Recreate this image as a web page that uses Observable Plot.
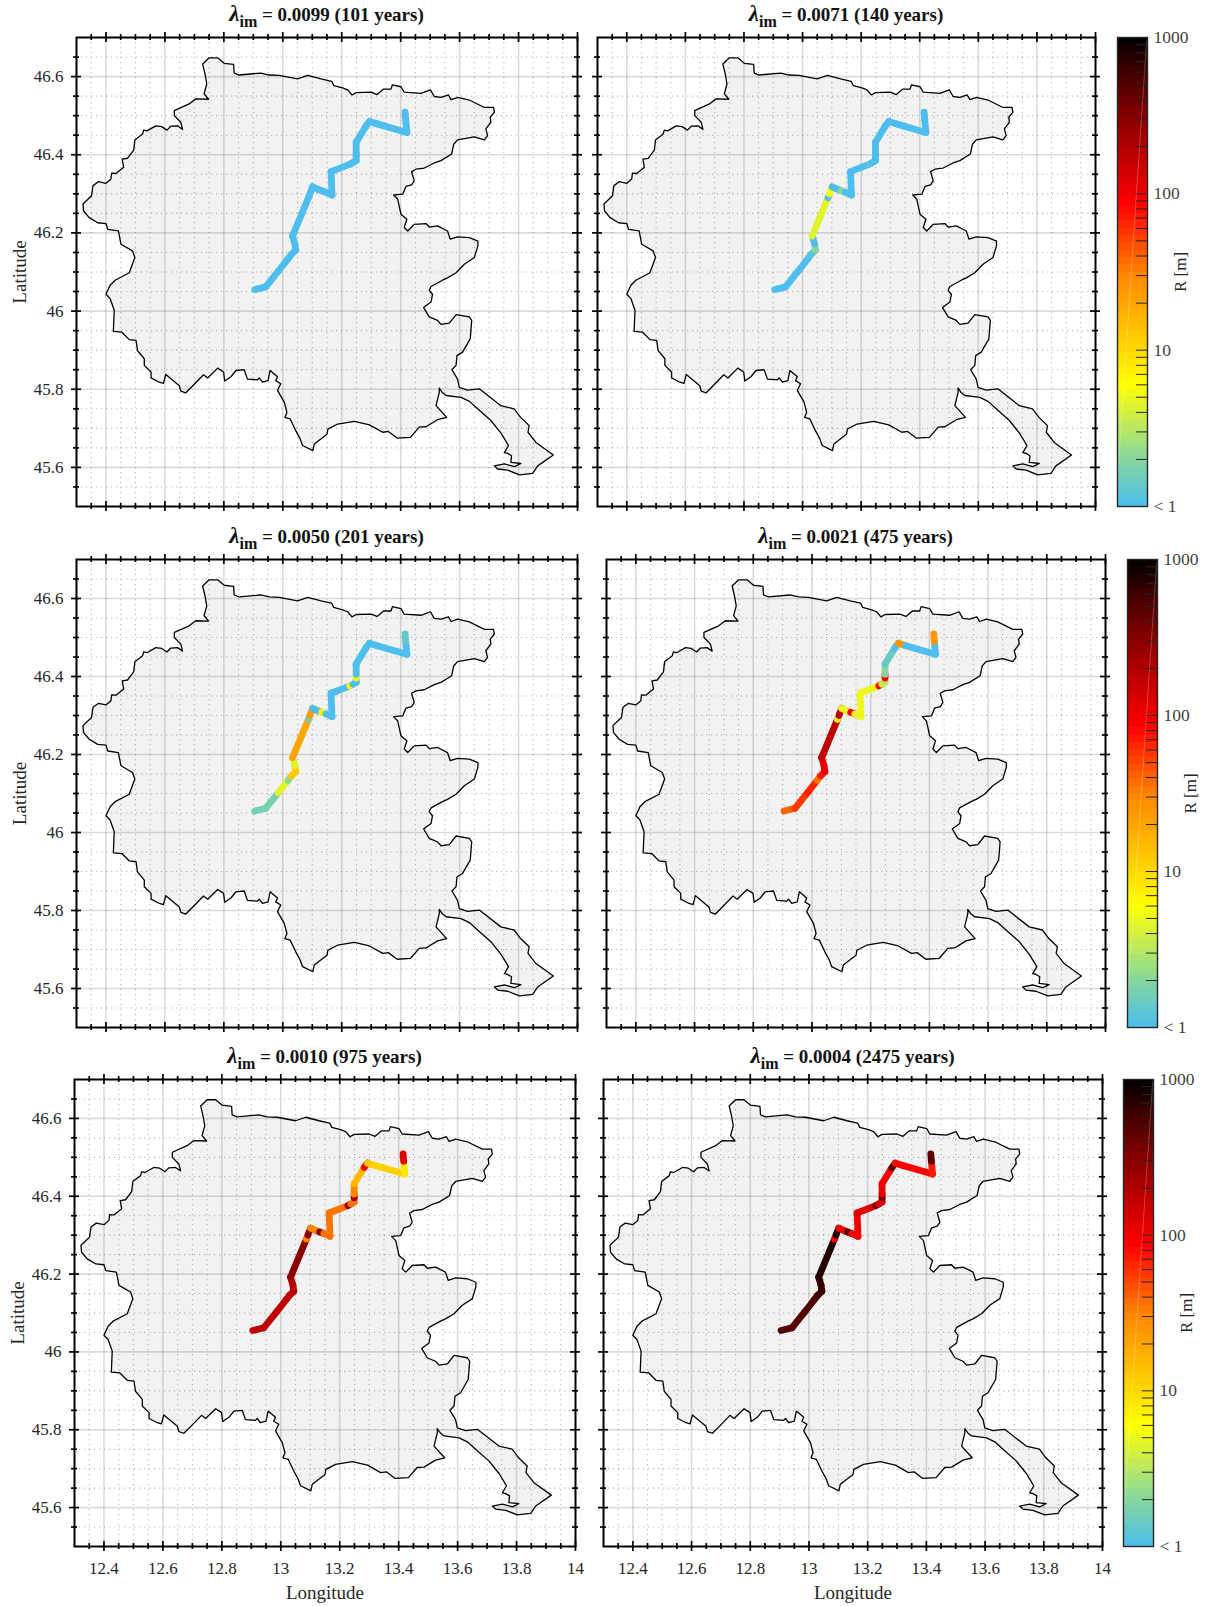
<!DOCTYPE html>
<html>
<head>
<meta charset="utf-8">
<script src="https://cdn.jsdelivr.net/npm/d3@7"></script>
<script src="https://cdn.jsdelivr.net/npm/@observablehq/plot@0.6"></script>
<style>
html,body{margin:0;padding:0;background:#fff;}
#page{position:relative;width:1207px;height:1606px;overflow:hidden;font-family:"Liberation Serif",serif;}
.slot{position:absolute;left:0;top:0;}
.slot svg{max-width:none;overflow:visible;background:transparent;}
.ttl{position:absolute;text-align:center;font-weight:bold;font-size:19px;line-height:20px;color:#111;white-space:nowrap;}
.ttl i{font-size:23px;}
.ttl sub{font-size:16px;line-height:0;vertical-align:-6px;}
</style>
</head>
<body>
<div id="page"></div>
<script>
const outlineLon = [12.431,12.479,12.498,12.490,12.451,12.442,12.406,12.400,12.372,12.343,12.324,12.322,12.351,12.356,12.374,12.400,12.417,12.419,12.434,12.460,12.455,12.473,12.494,12.498,12.524,12.528,12.539,12.569,12.589,12.607,12.620,12.643,12.660,12.654,12.632,12.632,12.682,12.705,12.748,12.733,12.742,12.736,12.728,12.750,12.779,12.801,12.833,12.835,12.852,12.925,12.954,12.988,13.050,13.085,13.130,13.166,13.173,13.203,13.220,13.235,13.249,13.300,13.320,13.342,13.367,13.372,13.401,13.412,13.469,13.501,13.514,13.537,13.562,13.571,13.594,13.633,13.684,13.715,13.718,13.704,13.706,13.689,13.695,13.684,13.650,13.593,13.580,13.573,13.537,13.514,13.480,13.452,13.437,13.446,13.437,13.418,13.407,13.376,13.390,13.401,13.421,13.412,13.424,13.446,13.486,13.497,13.525,13.559,13.568,13.593,13.633,13.662,13.662,13.650,13.616,13.588,13.559,13.542,13.503,13.497,13.508,13.503,13.478,13.497,13.525,13.537,13.565,13.588,13.633,13.641,13.636,13.610,13.591,13.588,13.574,13.593,13.599,13.627,13.667,13.740,13.785,13.807,13.836,13.832,13.859,13.918,13.865,13.848,13.803,13.763,13.729,13.718,13.752,13.786,13.808,13.774,13.776,13.763,13.752,13.766,13.741,13.706,13.661,13.633,13.605,13.554,13.542,13.531,13.531,13.520,13.556,13.525,13.486,13.463,13.433,13.388,13.358,13.339,13.294,13.243,13.186,13.153,13.150,13.107,13.102,13.067,13.059,13.044,13.025,13.007,13.014,13.005,12.982,12.993,12.976,12.982,12.957,12.950,12.931,12.920,12.914,12.880,12.869,12.841,12.824,12.803,12.799,12.779,12.745,12.731,12.699,12.671,12.654,12.649,12.603,12.595,12.581,12.553,12.553,12.530,12.530,12.507,12.502,12.479,12.454,12.425,12.428,12.414,12.400,12.414];
const outlineLat = [46.079,46.098,46.137,46.154,46.171,46.205,46.209,46.224,46.226,46.239,46.256,46.274,46.295,46.321,46.331,46.327,46.338,46.353,46.352,46.368,46.389,46.391,46.412,46.438,46.453,46.463,46.461,46.474,46.472,46.463,46.473,46.474,46.465,46.483,46.500,46.513,46.530,46.543,46.542,46.556,46.581,46.607,46.632,46.648,46.648,46.634,46.631,46.609,46.604,46.609,46.604,46.603,46.594,46.603,46.594,46.588,46.577,46.571,46.566,46.553,46.559,46.560,46.554,46.568,46.568,46.579,46.574,46.560,46.557,46.566,46.549,46.547,46.553,46.541,46.547,46.540,46.521,46.521,46.509,46.496,46.483,46.466,46.449,46.438,46.446,46.438,46.427,46.402,46.385,46.379,46.366,46.363,46.357,46.333,46.323,46.319,46.299,46.297,46.286,46.248,46.235,46.214,46.205,46.222,46.224,46.215,46.218,46.205,46.184,46.190,46.188,46.179,46.167,46.137,46.120,46.098,46.085,46.079,46.063,46.053,46.043,46.023,46.009,45.985,45.976,45.966,45.969,45.991,45.985,45.976,45.929,45.895,45.886,45.861,45.850,45.826,45.805,45.798,45.801,45.758,45.750,45.728,45.707,45.690,45.664,45.632,45.604,45.585,45.581,45.593,45.596,45.604,45.609,45.602,45.610,45.613,45.630,45.636,45.638,45.656,45.687,45.720,45.750,45.769,45.779,45.784,45.791,45.803,45.792,45.758,45.728,45.722,45.704,45.703,45.677,45.675,45.692,45.690,45.709,45.718,45.711,45.698,45.685,45.660,45.643,45.656,45.673,45.694,45.724,45.728,45.741,45.767,45.797,45.814,45.822,45.832,45.848,45.822,45.818,45.829,45.824,45.826,45.850,45.848,45.832,45.821,45.844,45.854,45.829,45.837,45.812,45.791,45.795,45.809,45.838,45.815,45.818,45.829,45.844,45.861,45.878,45.899,45.925,45.927,45.946,45.948,46.002,46.032,46.043,46.066];

const stationLon = [12.905,12.942,12.985,13.018,13.029,13.044,13.041,13.033,13.087,13.092,13.101,13.122,13.132,13.146,13.167,13.164,13.228,13.238,13.249,13.249,13.249,13.249,13.283,13.294,13.320,13.421,13.417,13.415];
const stationLat = [46.055,46.062,46.102,46.134,46.145,46.156,46.172,46.192,46.290,46.300,46.318,46.311,46.308,46.304,46.297,46.357,46.376,46.380,46.385,46.396,46.406,46.432,46.474,46.485,46.479,46.457,46.490,46.509];

const R1 = [1,1,1,1,1,1,1,1,1,1,1,1,1,1,1,1,1,1,1,1,1,1,1,1,1,1,1];
const R2 = [1,1,1,1,1.2,2,1,4.5,1,5.5,1,1,2,1,1,1,1.3,1,1,1,1,1,1,1,1,1,1];
const R3 = [1.6,1.7,4.5,2,12,12,4.5,20,1.5,22,1,1,7,1,1,1,7,1,1,5,1,1,1,1,1,1,1.3];
const R4 = [40,55,65,35,70,100,100,170,5,170,5,5,90,5,5,5,90,4.5,3,90,2,1.4,1,25,1,1,25];
const R5 = [170,170,170,170,170,190,190,300,30,300,30,30,300,35,35,35,250,35,35,250,30,15,90,12,11,8,120];
const R6 = [500,500,500,500,600,650,650,750,90,750,100,100,500,95,95,120,350,130,120,350,110,100,500,85,85,70,450];

const rStops  = [1,2,3,4,6,10,20,30,85,200,300,600,1000];
const rColors = ["#4dbeee","#85d79b","#b4e76a","#d4f03c","#ffff00","#ffd800","#ffa500","#ff8800","#ff0000","#b00000","#8a0000","#3f0000","#000000"];

const lonMajor = [12.4,12.6,12.8,13,13.2,13.4,13.6,13.8,14];
const latMajor = [45.6,45.8,46,46.2,46.4,46.6];
const lonAll = d3.range(0,35).map(i => +(12.3+i*0.05).toFixed(2));
const latAll = d3.range(0,25).map(i => +(45.5+i*0.05).toFixed(2));
const lonMinor = lonAll.filter(v => !lonMajor.includes(v) && v!==12.3);
const latMinor = latAll.filter(v => !latMajor.includes(v) && v!==45.5 && v!==46.7);
const cbarMinor = [2,3,4,5,6,7,8,9,10,20,30,40,50,60,70,80,90,100,200,300,400,500,600,700,800,900];
const cbarLabels = [1,10,100,1000];

const colorScale = {type:"log",domain:rStops,range:rColors};
const outline = outlineLon.map((x,i)=>({x,y:outlineLat[i]}));
const page = document.getElementById("page");
const M = {l:70,r:22,t:10,b:60};

function panel(p){
  const w = p.right-p.left, h = p.bottom-p.top;
  const kx = 1.7/w, ky = 1.2/h;
  const route = d3.range(stationLon.length-1).map(i=>({x1:stationLon[i],y1:stationLat[i],x2:stationLon[i+1],y2:stationLat[i+1],r:p.R[i]}));
  const tick = (len,sw,xs,ys)=>[
    Plot.ruleX(xs,{x:d=>d,y1:45.5-len*ky,y2:45.5+len*ky,stroke:"#000",strokeWidth:sw}),
    Plot.ruleX(xs,{x:d=>d,y1:46.7-len*ky,y2:46.7+len*ky,stroke:"#000",strokeWidth:sw}),
    Plot.ruleY(ys,{y:d=>d,x1:12.3-len*kx,x2:12.3+len*kx,stroke:"#000",strokeWidth:sw}),
    Plot.ruleY(ys,{y:d=>d,x1:14-len*kx,x2:14+len*kx,stroke:"#000",strokeWidth:sw})
  ];
  const marks = [
    Plot.line(outline,{x:"x",y:"y",fill:"#f2f2f2",stroke:"none"}),
    Plot.ruleX(lonMinor,{x:d=>d,stroke:"#000",strokeOpacity:0.27,strokeWidth:1.1,strokeDasharray:"1.2 3.8"}),
    Plot.ruleY(latMinor,{y:d=>d,stroke:"#000",strokeOpacity:0.27,strokeWidth:1.1,strokeDasharray:"1.2 3.8"}),
    Plot.ruleX(lonMajor.slice(0,-1),{x:d=>d,stroke:"#000",strokeOpacity:0.14,strokeWidth:1.6}),
    Plot.ruleY(latMajor,{y:d=>d,stroke:"#000",strokeOpacity:0.14,strokeWidth:1.6}),
    Plot.line(outline.concat([outline[0]]),{x:"x",y:"y",stroke:"#000",strokeWidth:1.3,fill:"none"}),
    Plot.link(route,{x1:"x1",y1:"y1",x2:"x2",y2:"y2",stroke:"r",strokeWidth:6.8,strokeLinecap:"round"}),
    Plot.frame({stroke:"#000",strokeWidth:2}),
    ...tick(5,1.7,lonMajor,latMajor),
    ...tick(3,1.7,lonMinor,latMinor)
  ];
  if(p.xLabels){
    marks.push(Plot.axisX({anchor:"bottom",ticks:lonMajor,tickSize:0,tickPadding:15,fontSize:17,label:null,tickFormat:d=>String(d)}));
    marks.push(Plot.text(["Longitude"],{frameAnchor:"bottom",dy:52,fontSize:19,fill:"#262626"}));
  }
  if(p.yLabels){
    marks.push(Plot.axisY({anchor:"left",ticks:latMajor,tickSize:0,tickPadding:13,fontSize:17,label:null,tickFormat:d=>String(d)}));
    marks.push(Plot.text(["Latitude"],{frameAnchor:"left",textAnchor:"middle",rotate:-90,dx:-57,fontSize:19,fill:"#262626"}));
  }
  const svg = Plot.plot({
    width:w+M.l+M.r,height:h+M.t+M.b,
    marginLeft:M.l,marginRight:M.r,marginTop:M.t,marginBottom:M.b,
    style:{fontFamily:"Liberation Serif, serif",color:"#262626",background:"transparent",overflow:"visible"},
    x:{domain:[12.3,14],axis:null},
    y:{domain:[45.5,46.7],axis:null},
    color:colorScale,
    marks
  });
  const s = document.createElement("div");
  s.className="slot";
  s.style.left=(p.left-M.l)+"px"; s.style.top=(p.top-M.t)+"px";
  s.appendChild(svg); page.appendChild(s);
  const t = document.createElement("div");
  t.className="ttl";
  t.style.left=p.left+"px"; t.style.width=w+"px"; t.style.top=(p.top-33)+"px";
  t.innerHTML="<i>λ</i><sub>im</sub> = "+p.title;
  page.appendChild(t);
}

function colorbar(c){
  const w=c.right-c.left,h=c.bottom-c.top, mr=70, mt=10, mb=15;
  const n=64;
  const bands=d3.range(n).map(i=>({lo:Math.pow(10,3*i/n),hi:Math.pow(10,3*(i+1)/n),mid:Math.pow(10,3*(i+0.5)/n)}));
  const svg=Plot.plot({
    width:w+mr+2,height:h+mt+mb,
    marginLeft:2,marginRight:mr,marginTop:mt,marginBottom:mb,
    style:{fontFamily:"Liberation Serif, serif",color:"#404040",background:"transparent",overflow:"visible"},
    x:{domain:[0,1],axis:null},
    y:{type:"log",domain:[1,1000],axis:null},
    color:colorScale,
    marks:[
      Plot.rect(bands,{x1:()=>0,x2:()=>1,y1:"lo",y2:"hi",fill:"mid",shapeRendering:"crispEdges"}),
      Plot.line([{x:0,y:1.5},{x:0.97,y:950}],{x:"x",y:"y",stroke:"#fff",strokeOpacity:0.25,strokeWidth:1}),
      Plot.ruleY(cbarMinor,{y:d=>d,x1:()=>0.63,x2:()=>1,stroke:"#262626",strokeWidth:1}),
      Plot.frame({stroke:"#262626",strokeWidth:1.4}),
      Plot.axisY({anchor:"right",ticks:cbarLabels,tickSize:0,tickPadding:6,fontSize:17.5,label:null,tickFormat:d=>d===1?"< 1":String(d)}),
      Plot.text(["R [m]"],{frameAnchor:"right",textAnchor:"middle",rotate:-90,dx:33,fontSize:17,fill:"#262626"})
    ]
  });
  const s=document.createElement("div");
  s.className="slot";
  s.style.left=(c.left-2)+"px"; s.style.top=(c.top-mt)+"px";
  s.appendChild(svg); page.appendChild(s);
}

panel({left:76,right:577,top:37,bottom:506,R:R1,title:"0.0099 (101 years)",yLabels:true});
panel({left:597,right:1095,top:37,bottom:506,R:R2,title:"0.0071 (140 years)"});
panel({left:76,right:577,top:559,bottom:1027,R:R3,title:"0.0050 (201 years)",yLabels:true});
panel({left:606,right:1105,top:559,bottom:1027,R:R4,title:"0.0021 (475 years)"});
panel({left:74,right:575,top:1079,bottom:1546,R:R5,title:"0.0010 (975 years)",xLabels:true,yLabels:true});
panel({left:603,right:1102,top:1079,bottom:1546,R:R6,title:"0.0004 (2475 years)",xLabels:true});
colorbar({left:1117,right:1147,top:37,bottom:506});
colorbar({left:1127,right:1157,top:559,bottom:1027});
colorbar({left:1123,right:1153,top:1079,bottom:1546});
</script>
</body>
</html>
